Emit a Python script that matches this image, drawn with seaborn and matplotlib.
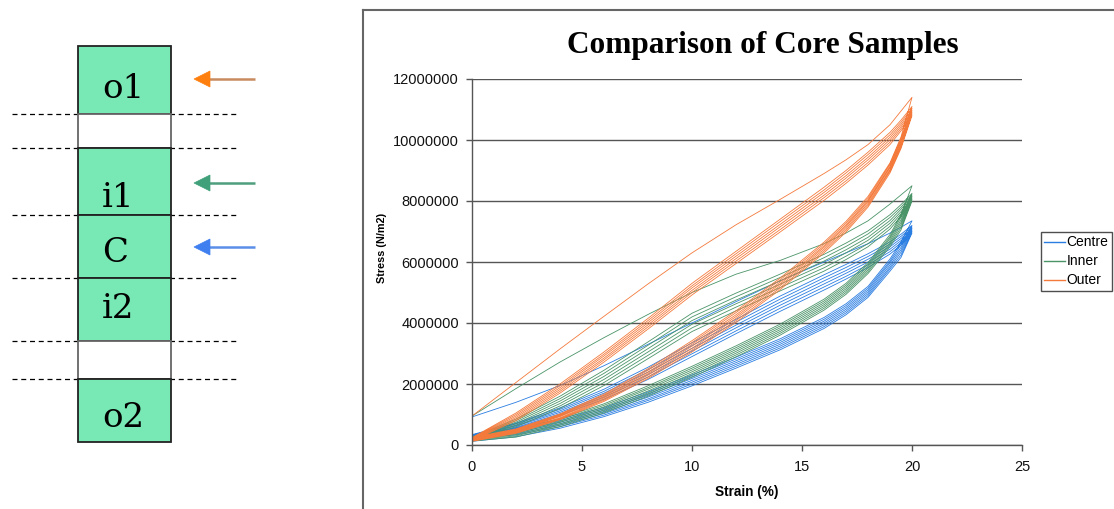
import numpy as np
import pandas as pd
import matplotlib
matplotlib.use("Agg")
import matplotlib.pyplot as plt
from matplotlib.patches import Rectangle, Polygon
from matplotlib.ticker import FuncFormatter
import seaborn as sns

# ---------------------------------------------------------------------------
# Data: stress (MN/m2) sampled at common strain points for each load cycle.
# "rise" = loading branch (strain increasing), "fall" = unloading branch
# (listed in increasing strain order, traversed from 20 % back to 0 %).
# ---------------------------------------------------------------------------
STRAIN_PTS = [0, 2, 4, 6, 8, 10, 12, 14, 16, 17, 18, 19, 19.5, 20]
SAMPLES = ["Centre", "Inner", "Outer"]

centre_rise = [
    [0.92, 1.40, 1.95, 2.60, 3.30, 4.00, 4.70, 5.38, 6.00, 6.30, 6.60, 6.95, 7.14, 7.35],
    [0.34, 0.72, 1.22, 1.83, 2.55, 3.35, 4.12, 4.88, 5.58, 5.92, 6.27, 6.66, 6.91, 7.20],
    [0.32, 0.69, 1.17, 1.76, 2.47, 3.26, 4.03, 4.78, 5.48, 5.82, 6.18, 6.58, 6.84, 7.15],
    [0.30, 0.65, 1.12, 1.70, 2.39, 3.17, 3.93, 4.68, 5.38, 5.72, 6.09, 6.50, 6.77, 7.10],
    [0.28, 0.62, 1.07, 1.63, 2.31, 3.08, 3.84, 4.58, 5.28, 5.63, 6.00, 6.42, 6.70, 7.05],
    [0.26, 0.58, 1.02, 1.57, 2.23, 2.99, 3.74, 4.48, 5.18, 5.53, 5.91, 6.34, 6.63, 7.00],
    [0.24, 0.55, 0.97, 1.50, 2.15, 2.90, 3.65, 4.38, 5.08, 5.44, 5.82, 6.26, 6.56, 6.95],
]
centre_fall = [
    [0.34, 0.54, 0.85, 1.23, 1.74, 2.30, 2.88, 3.48, 4.18, 4.63, 5.20, 6.10, 6.65, 7.35],
    [0.32, 0.50, 0.80, 1.18, 1.68, 2.24, 2.82, 3.42, 4.12, 4.57, 5.14, 6.03, 6.57, 7.20],
    [0.30, 0.45, 0.75, 1.13, 1.63, 2.18, 2.76, 3.36, 4.06, 4.51, 5.08, 5.97, 6.48, 7.15],
    [0.28, 0.41, 0.70, 1.08, 1.57, 2.12, 2.70, 3.30, 4.00, 4.45, 5.02, 5.90, 6.40, 7.10],
    [0.26, 0.37, 0.65, 1.03, 1.51, 2.06, 2.64, 3.24, 3.94, 4.39, 4.96, 5.83, 6.32, 7.05],
    [0.24, 0.33, 0.60, 0.98, 1.46, 2.00, 2.58, 3.18, 3.88, 4.33, 4.90, 5.77, 6.23, 7.00],
    [0.12, 0.27, 0.55, 0.93, 1.40, 1.94, 2.52, 3.12, 3.82, 4.27, 4.84, 5.70, 6.15, 6.95],
]

inner_rise = [
    [0.95, 1.85, 2.72, 3.52, 4.28, 5.00, 5.60, 6.05, 6.60, 6.95, 7.35, 7.90, 8.20, 8.50],
    [0.26, 0.85, 1.60, 2.45, 3.38, 4.32, 4.98, 5.60, 6.25, 6.62, 7.02, 7.55, 7.88, 8.25],
    [0.24, 0.80, 1.52, 2.35, 3.27, 4.20, 4.86, 5.49, 6.14, 6.51, 6.92, 7.46, 7.80, 8.20],
    [0.22, 0.75, 1.44, 2.25, 3.16, 4.08, 4.75, 5.38, 6.03, 6.40, 6.81, 7.36, 7.73, 8.15],
    [0.20, 0.70, 1.36, 2.15, 3.05, 3.96, 4.63, 5.27, 5.92, 6.30, 6.71, 7.27, 7.65, 8.10],
    [0.18, 0.65, 1.28, 2.05, 2.94, 3.84, 4.52, 5.16, 5.81, 6.19, 6.60, 7.17, 7.58, 8.05],
    [0.16, 0.60, 1.20, 1.95, 2.83, 3.72, 4.40, 5.05, 5.70, 6.08, 6.50, 7.08, 7.50, 8.00],
]
inner_fall = [
    [0.26, 0.50, 0.87, 1.35, 1.94, 2.58, 3.25, 3.96, 4.78, 5.30, 5.98, 6.90, 7.55, 8.50],
    [0.24, 0.46, 0.83, 1.30, 1.88, 2.52, 3.19, 3.90, 4.72, 5.24, 5.92, 6.83, 7.47, 8.25],
    [0.22, 0.42, 0.78, 1.25, 1.83, 2.46, 3.13, 3.84, 4.66, 5.18, 5.86, 6.77, 7.38, 8.20],
    [0.20, 0.38, 0.74, 1.20, 1.77, 2.40, 3.07, 3.78, 4.60, 5.12, 5.80, 6.70, 7.30, 8.15],
    [0.18, 0.34, 0.69, 1.15, 1.71, 2.34, 3.01, 3.72, 4.54, 5.06, 5.74, 6.63, 7.22, 8.10],
    [0.16, 0.30, 0.65, 1.10, 1.66, 2.28, 2.95, 3.66, 4.48, 5.00, 5.68, 6.57, 7.13, 8.05],
    [0.13, 0.26, 0.60, 1.05, 1.60, 2.22, 2.89, 3.60, 4.42, 4.94, 5.62, 6.50, 7.05, 8.00],
]

outer_rise = [
    [0.95, 2.05, 3.15, 4.22, 5.28, 6.30, 7.22, 8.05, 8.90, 9.35, 9.85, 10.50, 10.95, 11.40],
    [0.24, 1.05, 2.00, 3.05, 4.15, 5.30, 6.35, 7.40, 8.45, 9.00, 9.60, 10.25, 10.65, 11.10],
    [0.22, 1.00, 1.94, 2.98, 4.08, 5.22, 6.27, 7.32, 8.36, 8.92, 9.52, 10.17, 10.58, 11.04],
    [0.20, 0.95, 1.88, 2.92, 4.01, 5.15, 6.19, 7.23, 8.28, 8.83, 9.43, 10.09, 10.51, 10.98],
    [0.18, 0.90, 1.82, 2.85, 3.94, 5.07, 6.11, 7.15, 8.19, 8.75, 9.35, 10.01, 10.44, 10.92],
    [0.16, 0.85, 1.76, 2.79, 3.87, 5.00, 6.03, 7.06, 8.11, 8.66, 9.26, 9.93, 10.37, 10.86],
    [0.14, 0.80, 1.70, 2.72, 3.80, 4.92, 5.95, 6.98, 8.02, 8.58, 9.18, 9.85, 10.30, 10.80],
]
outer_fall = [
    [0.24, 0.53, 1.02, 1.67, 2.50, 3.42, 4.40, 5.47, 6.65, 7.33, 8.15, 9.25, 10.10, 11.40],
    [0.22, 0.50, 0.99, 1.63, 2.45, 3.36, 4.34, 5.41, 6.59, 7.27, 8.09, 9.20, 10.04, 11.10],
    [0.20, 0.48, 0.96, 1.59, 2.39, 3.30, 4.27, 5.34, 6.53, 7.21, 8.03, 9.14, 9.97, 11.04],
    [0.18, 0.46, 0.93, 1.55, 2.34, 3.24, 4.21, 5.28, 6.48, 7.16, 7.98, 9.09, 9.91, 10.98],
    [0.16, 0.43, 0.89, 1.51, 2.29, 3.17, 4.15, 5.22, 6.42, 7.10, 7.92, 9.03, 9.85, 10.92],
    [0.14, 0.41, 0.86, 1.47, 2.23, 3.11, 4.08, 5.15, 6.36, 7.04, 7.86, 8.98, 9.78, 10.86],
    [0.12, 0.38, 0.83, 1.43, 2.18, 3.05, 4.02, 5.09, 6.30, 6.98, 7.80, 8.92, 9.72, 10.80],
]

SERIES = {
    "Centre": (centre_rise, centre_fall),
    "Inner": (inner_rise, inner_fall),
    "Outer": (outer_rise, outer_fall),
}
COLORS = {"Centre": "#2a7de1", "Inner": "#4a9468", "Outer": "#f47a3c"}

X_TICKS = [0, 5, 10, 15, 20, 25]
Y_TICKS = [0, 2000000, 4000000, 6000000, 8000000, 10000000, 12000000]

# Core section diagram: label, top, bottom (figure pixels), filled?
SECTIONS = [
    ("o1", 46, 114, True),
    ("", 114, 147.5, False),
    ("i1", 147.5, 215, True),
    ("C", 215, 278, True),
    ("i2", 278, 341, True),
    ("", 341, 378.5, False),
    ("o2", 378.5, 442, True),
]
LABEL_BASELINES = {"o1": 98, "i1": 207, "C": 262, "i2": 318, "o2": 427}
CUT_LINES = [113.5, 147.5, 215, 278, 341, 378.5]
ARROWS = [(79, "#ff7f0e", "#c98a5e"), (183, "#3fa07a", "#4f9e7e"), (247, "#3f7ff0", "#5b8ee8")]

# ---------------------------------------------------------------------------
# Build the continuous load path for each sample
# ---------------------------------------------------------------------------
rows = []
for name, (rises, falls) in SERIES.items():
    for rise, fall in zip(rises, falls):
        for s, v in zip(STRAIN_PTS, rise):
            rows.append((name, s, v * 1e6))
        for s, v in zip(STRAIN_PTS[::-1][1:], fall[::-1][1:]):
            rows.append((name, s, v * 1e6))
df = pd.DataFrame(rows, columns=["sample", "strain", "stress"])

W, H = 1114, 509
fig = plt.figure(figsize=(W / 100, H / 100), dpi=100)
fig.patch.set_facecolor("white")

# ---------------- core section diagram (pixel coordinates) ----------------
ax_d = fig.add_axes([0, 0, 1, 1])
ax_d.set_xlim(0, W)
ax_d.set_ylim(H, 0)
ax_d.axis("off")

for y in CUT_LINES:
    ax_d.plot([12, 236], [y, y], color="black", lw=0.9, ls=(0, (4, 3)), zorder=1)

for label, top, bot, filled in SECTIONS:
    ax_d.add_patch(Rectangle((78, top), 93, bot - top,
                             facecolor="#78e8b4" if filled else "white",
                             edgecolor="#222222" if filled else "#666666",
                             lw=1.3, zorder=2))
for label, base in LABEL_BASELINES.items():
    ax_d.text(102, base, label, ha="left", va="baseline",
              fontsize=24.5, family="DejaVu Serif", color="black", zorder=3)

for y, head, shaft in ARROWS:
    ax_d.plot([208, 255], [y, y], color=shaft, lw=1.8, solid_capstyle="butt", zorder=2)
    ax_d.add_patch(Polygon([[194, y], [210, y - 8], [210, y + 8]], closed=True,
                           facecolor=head, edgecolor=head, lw=0.5, zorder=3))

# chart frame
ax_d.plot([363, 363], [9.5, H], color="#666666", lw=1.5)
ax_d.plot([363, W], [9.5, 9.5], color="#666666", lw=1.5)

# ---------------- stress-strain chart ----------------
x0, x1 = 472, 1022
y0, y1 = 445, 79
ax = fig.add_axes([x0 / W, (H - y0) / H, (x1 - x0) / W, (y0 - y1) / H])
ax.set_facecolor("none")

sns.lineplot(data=df, x="strain", y="stress", hue="sample", hue_order=SAMPLES,
             palette=COLORS, sort=False, estimator=None, lw=0.6, ax=ax,
             legend=False)

ax.set_xlim(0, 25)
ax.set_ylim(0, 12000000)
ax.set_xticks(X_TICKS)
ax.set_yticks(Y_TICKS)
ax.yaxis.set_major_formatter(FuncFormatter(lambda v, p: f"{int(round(v))}"))
ax.grid(axis="y", color="#555555", lw=1.0)
ax.set_axisbelow(True)
for side in ["top", "right"]:
    ax.spines[side].set_visible(False)
for side in ["left", "bottom"]:
    ax.spines[side].set_color("#555555")
    ax.spines[side].set_linewidth(1.0)
ax.tick_params(axis="both", direction="out", length=4, width=1.0, color="#555555",
               labelsize=10.5, labelcolor="#111111")
ax.tick_params(axis="y", pad=5.5)
ax.tick_params(axis="x", pad=7)
for lab in ax.get_xticklabels() + ax.get_yticklabels():
    lab.set_family("Liberation Sans")

ax.set_xlabel("")
ax.set_ylabel("")
fig.text(747 / W, 1 - 492 / H, "Strain (%)", ha="center", va="center",
         fontsize=9.8, fontweight="bold", family="Liberation Sans")
fig.text(382 / W, 1 - 248 / H, "Stress (N/m2)", ha="center", va="center",
         rotation=90, fontsize=7.8, fontweight="bold", family="Liberation Sans")
fig.text(763 / W, 1 - 45 / H, "Comparison of Core Samples", ha="center",
         va="center", fontsize=22.5, fontweight="bold", family="Liberation Serif")

handles = [plt.Line2D([], [], color=COLORS[s], lw=1.0) for s in SAMPLES]
leg = fig.legend(handles, SAMPLES, loc="upper left",
                 bbox_to_anchor=(1041 / W, 1 - 232 / H),
                 bbox_transform=fig.transFigure, frameon=True, fancybox=False,
                 prop={"family": "Liberation Sans", "size": 10},
                 handlelength=1.45, handletextpad=0.15, labelspacing=0.36,
                 borderpad=0.25, borderaxespad=0)
leg.get_frame().set_edgecolor("#222222")
leg.get_frame().set_linewidth(1.0)

fig.savefig("out.png", dpi=100, facecolor="white")
